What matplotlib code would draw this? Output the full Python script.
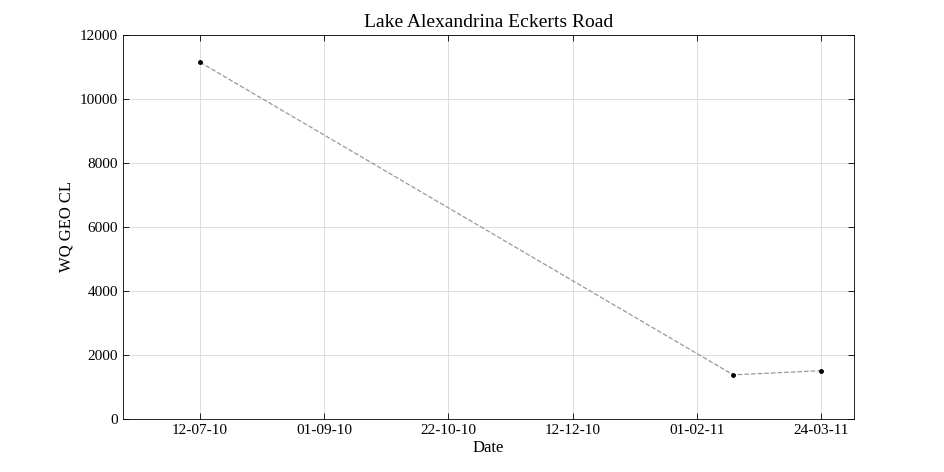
import matplotlib
matplotlib.use("Agg")
import matplotlib.pyplot as plt
import matplotlib.dates as mdates
import pandas as pd

plt.rcParams['font.family'] = ['Liberation Serif', 'DejaVu Serif']

dates = pd.to_datetime(["2010-07-12", "2011-02-16", "2011-03-24"])
values = [11150, 1380, 1510]
tick_dates = pd.to_datetime(["2010-07-12", "2010-09-01", "2010-10-22",
                             "2010-12-12", "2011-02-01", "2011-03-24"])

fig = plt.figure(figsize=(9.45, 4.72), dpi=100)
ax = fig.add_axes([123/945, 1-419/472, (854-123)/945, (419-35)/472])

ax.plot(dates, values, linestyle='--', color='#999999', linewidth=0.9,
        marker='o', markersize=2.5, markerfacecolor='black', markeredgecolor='black')

ax.set_xlim(tick_dates[0] - pd.Timedelta(days=31.6), tick_dates[0] + pd.Timedelta(days=268.6))
ax.set_ylim(0, 12000)
ax.set_xticks(tick_dates)
ax.xaxis.set_major_formatter(mdates.DateFormatter('%d-%m-%y'))
ax.set_yticks(range(0, 12001, 2000))
ax.tick_params(direction='in', top=True, right=True, labelsize=11, length=4, width=0.6)
ax.grid(True, color='#dddddd', linewidth=0.7)
for s in ax.spines.values():
    s.set_linewidth(0.6)

ax.set_title("Lake Alexandrina Eckerts Road", fontsize=14)
ax.set_xlabel("Date", fontsize=12, labelpad=2)
ax.set_ylabel("WQ GEO CL", fontsize=12)

fig.savefig("out.png", dpi=100)
